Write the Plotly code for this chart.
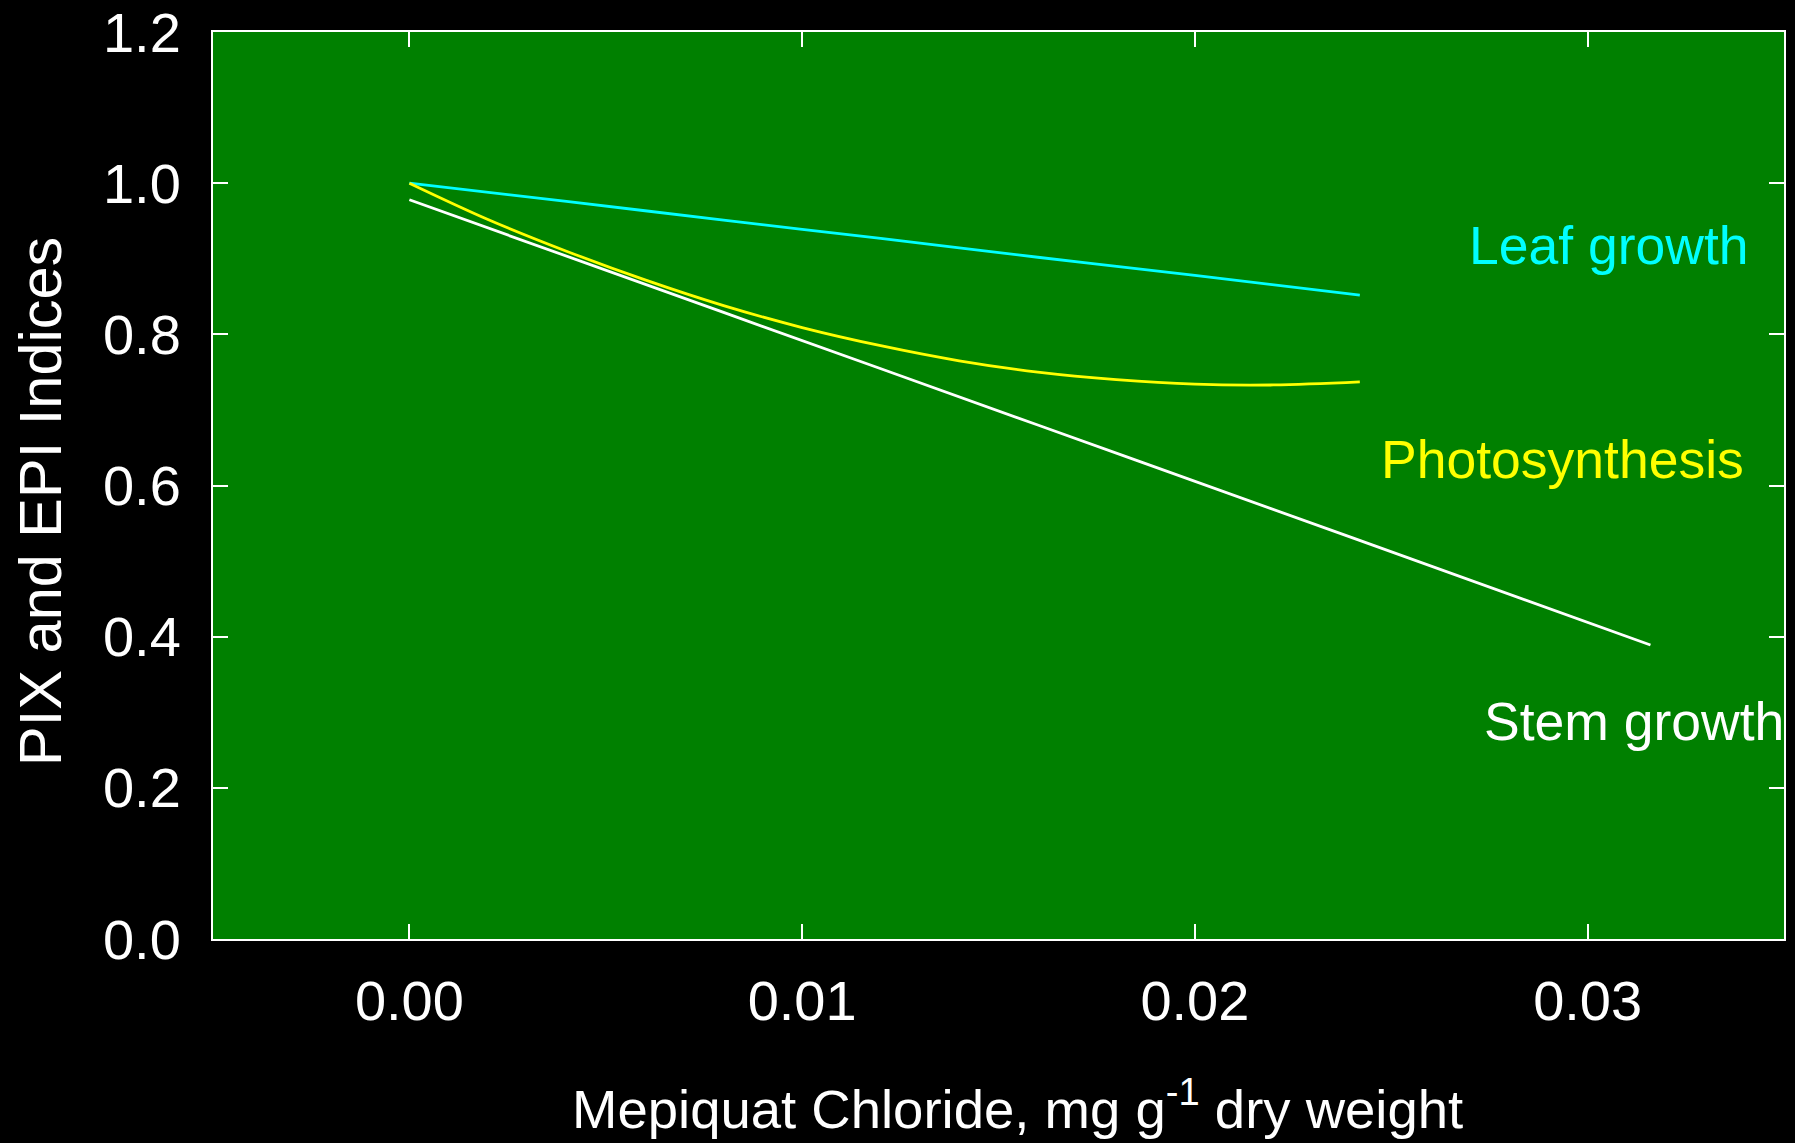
import plotly.graph_objects as go

# Data
leaf_x = [0.0, 0.004, 0.008, 0.012, 0.016, 0.020, 0.0242]
leaf_y = [1.000, 0.976, 0.951, 0.927, 0.902, 0.878, 0.852]

photo_x = [0.0, 0.002, 0.004, 0.006, 0.008, 0.010, 0.012, 0.014, 0.016, 0.018, 0.020, 0.022, 0.0242]
photo_y = [1.000, 0.952, 0.910, 0.872, 0.838, 0.809, 0.785, 0.765, 0.750, 0.740, 0.734, 0.733, 0.737]

stem_x = [0.0, 0.008, 0.016, 0.024, 0.0316]
stem_y = [0.978, 0.829, 0.680, 0.531, 0.389]

labels = ["Leaf growth", "Photosynthesis", "Stem growth"]
label_x = [0.03416, 0.03402, 0.0349]
label_y = [0.918, 0.634, 0.288]
label_xshift = [0, 0, 6]
colors = ["#00FFFF", "#FFFF00", "#FFFFFF"]

x_ticks = [0.0, 0.01, 0.02, 0.03]
x_ticktext = ["0.00", "0.01", "0.02", "0.03"]
y_ticks = [0.0, 0.2, 0.4, 0.6, 0.8, 1.0, 1.2]
y_ticktext = ["0.0", "0.2", "0.4", "0.6", "0.8", "1.0", "1.2"]

FONT = "Liberation Sans, Arial, sans-serif"

fig = go.Figure()
for xs, ys, c, name in [(leaf_x, leaf_y, colors[0], labels[0]),
                        (photo_x, photo_y, colors[1], labels[1]),
                        (stem_x, stem_y, colors[2], labels[2])]:
    fig.add_trace(go.Scatter(x=xs, y=ys, mode="lines", name=name,
                             line=dict(color=c, width=2.8, shape="spline"),
                             showlegend=False))

for t, xv, yv, xs_, c in zip(labels, label_x, label_y, label_xshift, colors):
    fig.add_annotation(text=t, x=xv, y=yv, xref="x", yref="y", xshift=xs_,
                       xanchor="right", yanchor="middle", showarrow=False,
                       font=dict(family=FONT, size=53.5, color=c))

# Axis titles placed as annotations to match the reference positions
fig.add_annotation(text="PIX and EPI Indices", x=-0.1095, y=0.483,
                   xref="paper", yref="paper", textangle=-90,
                   xanchor="center", yanchor="middle", showarrow=False,
                   font=dict(family=FONT, size=59.5, color="white"))
fig.add_annotation(text="Mepiquat Chloride, mg g<sup>-1</sup> dry weight",
                   x=0.5124, y=-0.1834, xref="paper", yref="paper",
                   xanchor="center", yanchor="middle", showarrow=False,
                   font=dict(family=FONT, size=54.5, color="white"))

axis_common = dict(
    showgrid=False, zeroline=False, automargin=False,
    showline=True, linecolor="white", linewidth=2, mirror="ticks",
    ticks="inside", ticklen=15, tickwidth=1.5, tickcolor="white",
    tickfont=dict(family=FONT, size=56, color="white"),
)

fig.update_xaxes(range=[-0.005, 0.035], tickvals=x_ticks, ticktext=x_ticktext,
                 ticklabelstandoff=12, **axis_common)
fig.update_yaxes(range=[0, 1.2], tickvals=y_ticks, ticktext=y_ticktext,
                 ticklabelstandoff=19, **axis_common)

fig.update_layout(
    width=1795, height=1143,
    margin=dict(l=213, r=11, t=32, b=204, autoexpand=False),
    paper_bgcolor="black", plot_bgcolor="#008000",
    font=dict(family=FONT, color="white"),
)

fig.write_html("out.html", config={"displayModeBar": False},
               post_script="document.body.style.margin='0';document.body.style.background='black';")
